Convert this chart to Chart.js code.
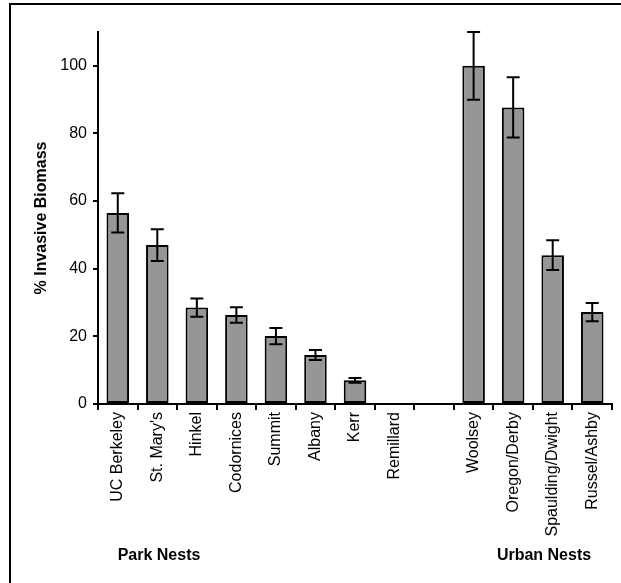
<!DOCTYPE html>
<html>
<head>
<meta charset="utf-8">
<script src="https://cdn.jsdelivr.net/npm/chart.js@4/dist/chart.umd.min.js"></script>
<style>
  html, body { margin: 0; padding: 0; background: #fff; overflow: hidden; }
  #frame {
    position: absolute; left: 9px; top: 3px; width: 700px; height: 700px;
    border-left: 2px solid #000; border-top: 2px solid #000;
  }
  #wrap { position: absolute; left: 0; top: 0; width: 621px; height: 583px; }
</style>
</head>
<body>
<div id="frame"></div>
<div id="wrap"><canvas id="c" width="621" height="583"></canvas></div>
<script>
// Nest sites (blank slot separates park and urban groups)
const sites = ["UC Berkeley", "St. Mary's", "Hinkel", "Codornices", "Summit", "Albany", "Kerr", "Remillard",
               "", "Woolsey", "Oregon/Derby", "Spaulding/Dwight", "Russel/Ashby"];
// Mean % invasive biomass per site
const invasivePct = [56.5, 47.0, 28.5, 26.3, 20.1, 14.5, 7.0, 0, null, 100, 87.7, 44.0, 27.2];
// Standard error per site
const invasiveErr = [5.8, 4.7, 2.7, 2.3, 2.4, 1.5, 0.7, 0, null, 10.0, 8.9, 4.4, 2.7];
// Y axis ticks
const yTicks = [0, 20, 40, 60, 80, 100];
const yMax = 110;
// Group captions under the axis
const groupLabels = [
  { text: "Park Nests", x: 159 },
  { text: "Urban Nests", x: 544 }
];

const FONT = "'Liberation Sans', Arial, Helvetica, sans-serif";

const errorBars = {
  id: 'errorBars',
  afterDatasetsDraw(chart) {
    const ctx = chart.ctx;
    const y = chart.scales.y;
    const meta = chart.getDatasetMeta(0);
    ctx.save();
    ctx.strokeStyle = '#000';
    ctx.lineWidth = 2;
    invasivePct.forEach((v, i) => {
      const e = invasiveErr[i];
      if (v == null || !e) return;
      const x = meta.data[i].x;
      const yt = y.getPixelForValue(v + e);
      const yb = y.getPixelForValue(v - e);
      const half = 6.5;
      ctx.beginPath();
      ctx.moveTo(x, yt); ctx.lineTo(x, yb);
      ctx.moveTo(x - half, yt); ctx.lineTo(x + half, yt);
      ctx.moveTo(x - half, yb); ctx.lineTo(x + half, yb);
      ctx.stroke();
    });
    ctx.restore();
  },
  afterDraw(chart) {
    const ctx = chart.ctx;
    ctx.save();
    ctx.fillStyle = '#000';
    ctx.font = 'bold 16px ' + FONT;
    ctx.textAlign = 'center';
    ctx.textBaseline = 'middle';
    groupLabels.forEach(g => ctx.fillText(g.text, g.x, 556));
    ctx.restore();
  }
};

new Chart(document.getElementById('c'), {
  type: 'bar',
  data: {
    labels: sites,
    datasets: [{
      data: invasivePct,
      backgroundColor: '#969696',
      borderColor: '#000',
      borderWidth: 2,
      borderSkipped: false,
      barPercentage: 0.57,
      categoryPercentage: 1.0
    }]
  },
  options: {
    responsive: false,
    animation: false,
    devicePixelRatio: 1,
    layout: { padding: { left: 28, right: 9, top: 32, bottom: 0 } },
    plugins: { legend: { display: false }, tooltip: { enabled: false } },
    scales: {
      x: {
        afterFit(s) { s.height = 179; },
        grid: {
          drawOnChartArea: false, drawTicks: true, tickLength: 6,
          color: '#000', lineWidth: 2, offset: true
        },
        border: { display: true, color: '#000', width: 2 },
        ticks: {
          minRotation: 90, maxRotation: 90, autoSkip: false, padding: 2,
          color: '#000', font: { family: FONT, size: 16 }
        }
      },
      y: {
        min: 0, max: yMax,
        afterFit(s) { s.width = 70; },
        afterBuildTicks(s) { s.ticks = yTicks.map(v => ({ value: v })); },
        grid: {
          drawOnChartArea: false, drawTicks: true, tickLength: 5,
          color: '#000', lineWidth: 2
        },
        border: { display: true, color: '#000', width: 2 },
        ticks: {
          padding: 6, color: '#000', font: { family: FONT, size: 16 }
        },
        title: {
          display: true, text: '% Invasive Biomass', color: '#000',
          font: { family: FONT, size: 16, weight: 'bold' },
          padding: { top: 4, bottom: 0 }
        }
      }
    }
  },
  plugins: [errorBars]
});
</script>
</body>
</html>
